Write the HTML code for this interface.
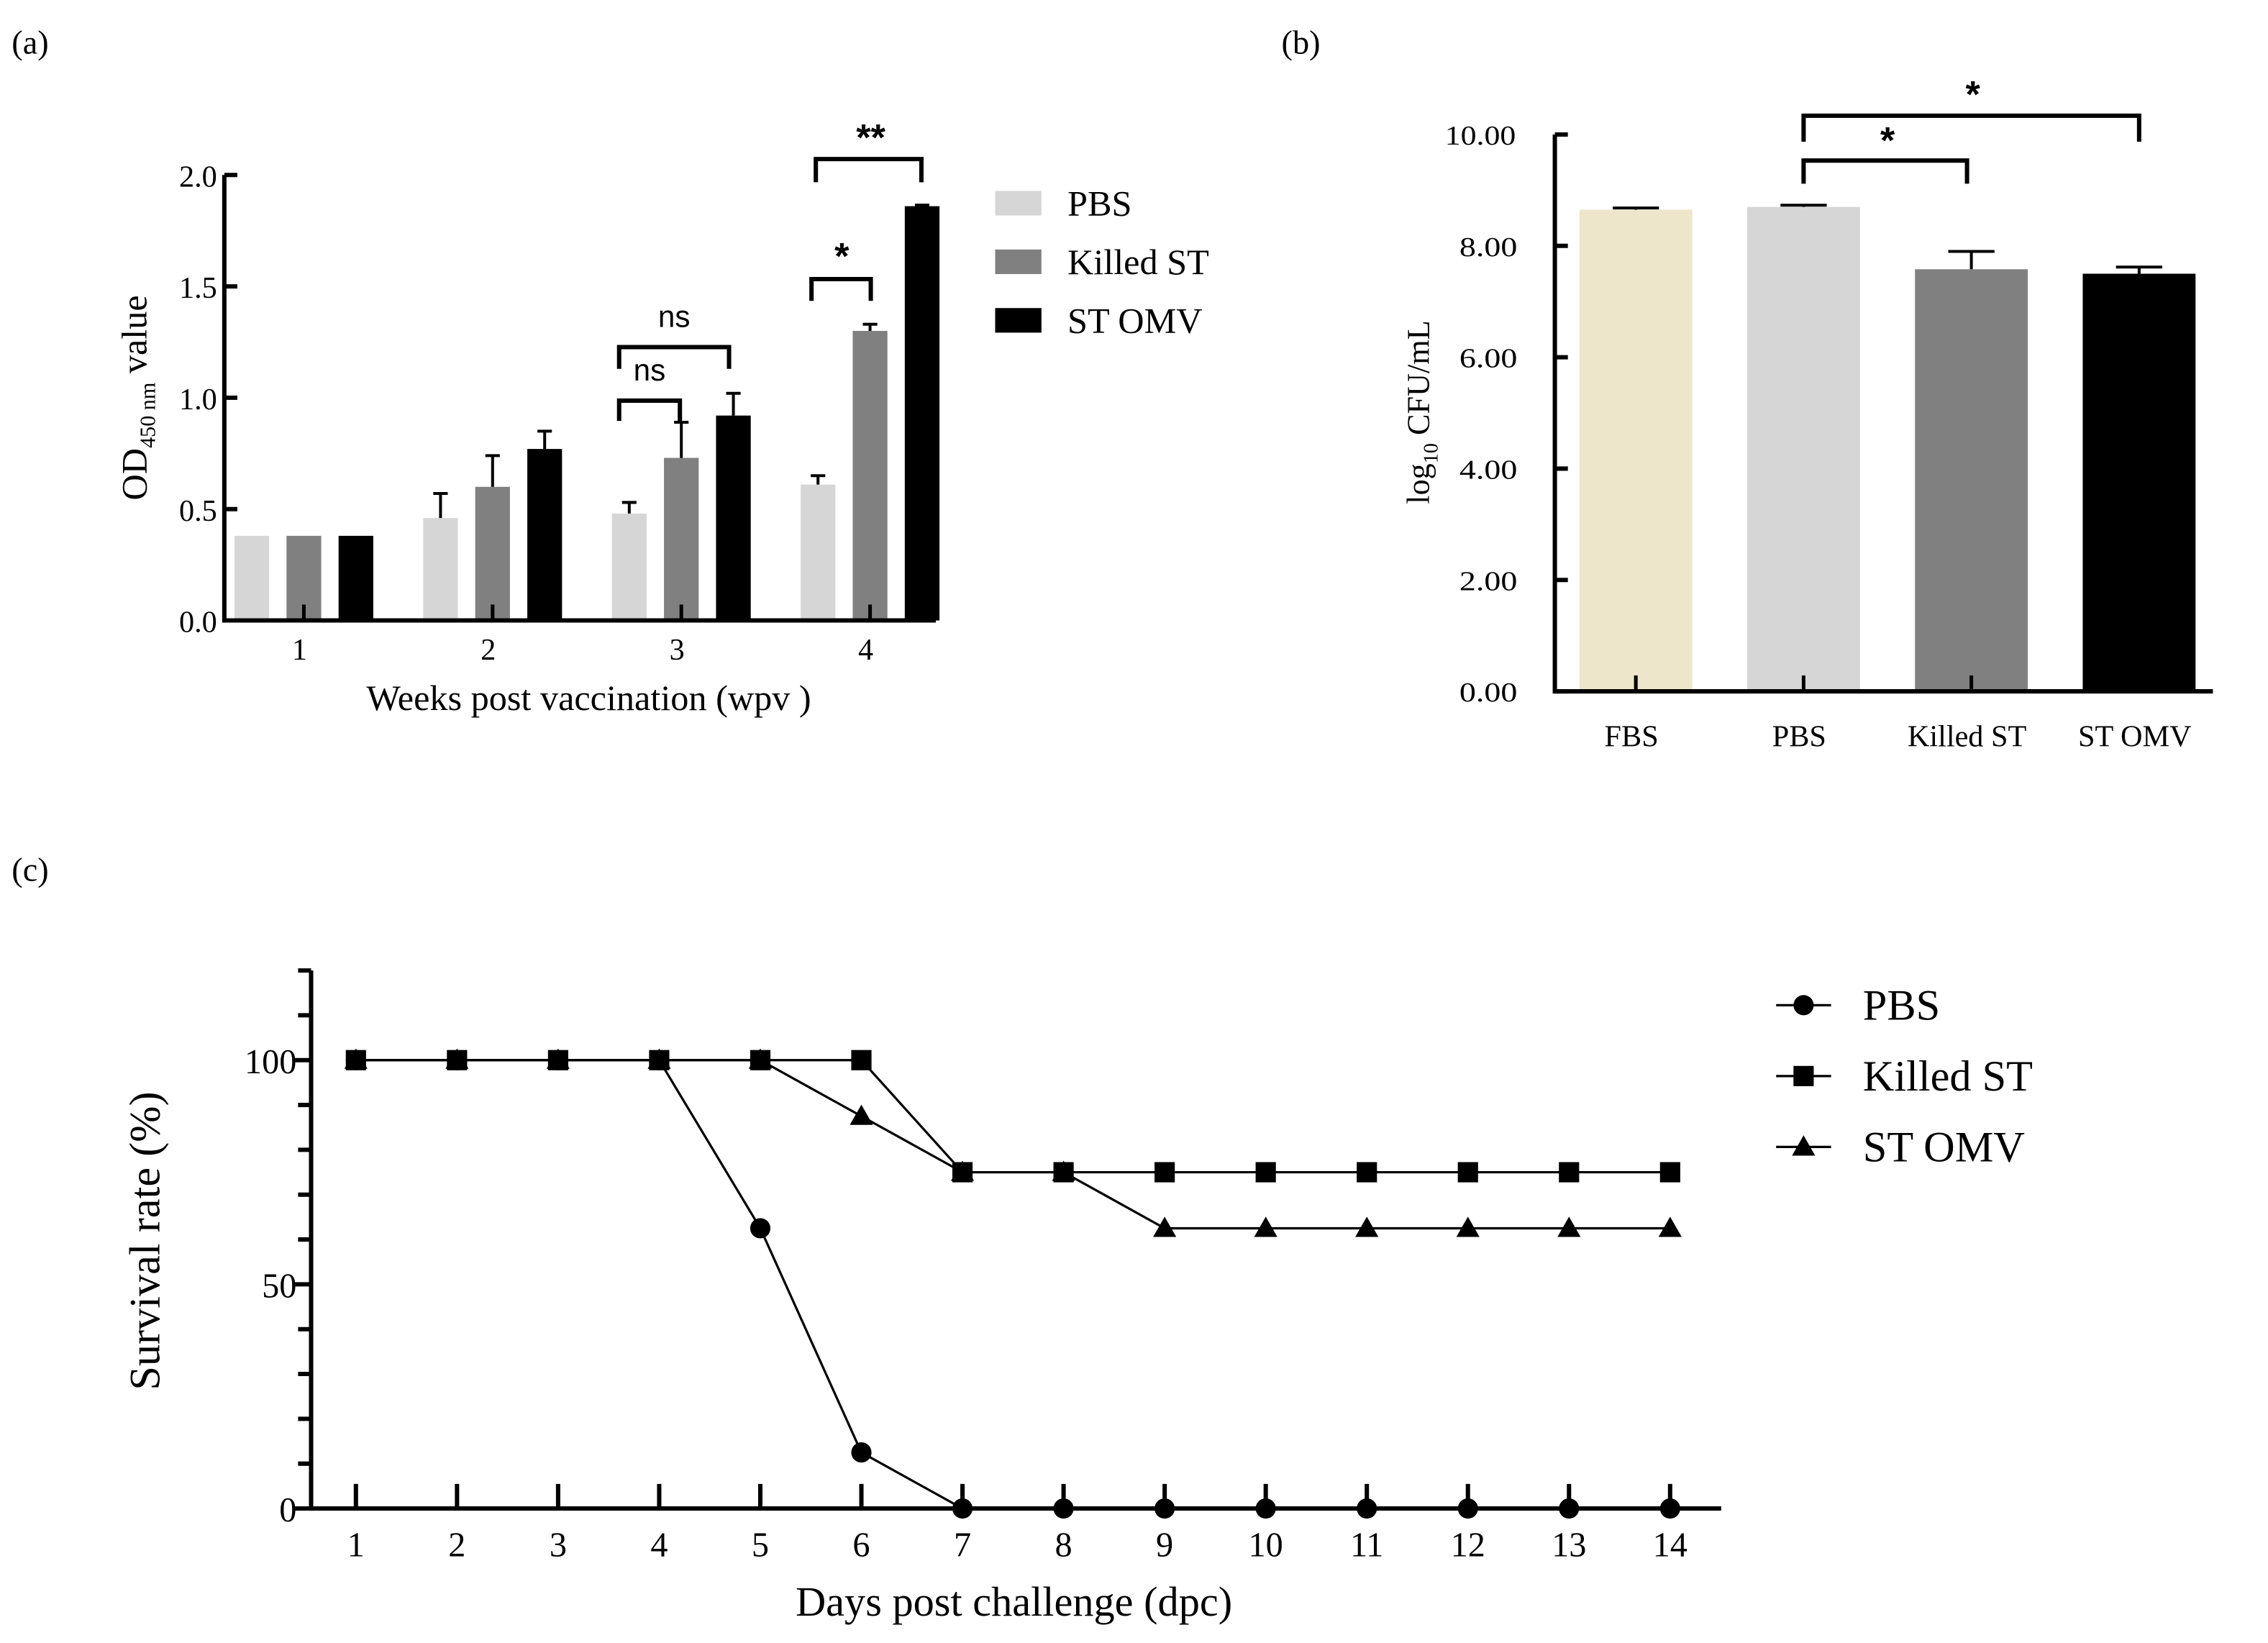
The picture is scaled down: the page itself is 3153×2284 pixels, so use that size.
<!DOCTYPE html>
<html><head><meta charset="utf-8"><style>
html,body{margin:0;padding:0;background:#fff}
svg{display:block}
text{font-family:"Liberation Serif",serif;fill:#000}
.sans{font-family:"Liberation Sans",sans-serif}
</style></head><body>
<svg id="fig" width="3153" height="2284" viewBox="0 0 1568 1136" xmlns="http://www.w3.org/2000/svg">
<rect width="1568" height="1136" fill="#fff"/>
<text x="8" y="37" font-size="23">(a)</text>
<text x="886" y="37" font-size="23">(b)</text>
<text x="8" y="609" font-size="23">(c)</text>
<g id="pa"></g>
<g id="pb"></g>
<g id="pc"></g>
</svg>
<script>
// Panel A data
const weeks = ["1","2","3","4"];
const aSeries = ["PBS","Killed ST","ST OMV"];
const aPBS = [0.38,0.46,0.48,0.61];
const aPBSerr = [0,0.11,0.05,0.04];
const aKilled = [0.38,0.60,0.73,1.30];
const aKillederr = [0,0.14,0.16,0.03];
const aOMV = [0.38,0.77,0.92,1.86];
const aOMVerr = [0,0.08,0.10,0.005];
const aTicks = ["0.0","0.5","1.0","1.5","2.0"];
// Panel B data
const bGroups = ["FBS","PBS","Killed ST","ST OMV"];
const bValues = [8.65,8.70,7.58,7.50];
const bErr = [0.03,0.03,0.32,0.12];
const bTicks = ["0.00","2.00","4.00","6.00","8.00","10.00"];
// Panel C data
const days = [1,2,3,4,5,6,7,8,9,10,11,12,13,14];
const cPBS = [100,100,100,100,62.5,12.5,0,0,0,0,0,0,0,0];
const cKilled = [100,100,100,100,100,100,75,75,75,75,75,75,75,75];
const cOMV = [100,100,100,100,100,87.5,75,75,62.5,62.5,62.5,62.5,62.5,62.5];
const cTicks = [0,50,100];

const NS="http://www.w3.org/2000/svg";
function mk(parent,tag,attrs,txt){const e=document.createElementNS(NS,tag);for(const k in attrs)e.setAttribute(k,attrs[k]);if(txt!==undefined)e.textContent=txt;parent.appendChild(e);return e;}

// ---------- Panel A ----------
(function(){
const g=document.getElementById('pa');
const X0=155,X1=647,Y0=429,Y1=121;
const y=v=>Y0-v*(Y0-Y1)/2.0;
const xc=i=>210+i*130.5;
const cols=["#d6d6d6","#808080","#000000"];
const vals=[aPBS,aKilled,aOMV], errs=[aPBSerr,aKillederr,aOMVerr];
for(let s=0;s<3;s++){for(let i=0;i<weeks.length;i++){
 const cx=xc(i)+(s-1)*36, w=24;
 const r=mk(g,'rect',{x:cx-w/2,y:y(vals[s][i]),width:w,height:Y0-y(vals[s][i]),fill:cols[s]});
 
 
 if(errs[s][i]>0){
  const top=y(vals[s][i]+errs[s][i]);
  const e=mk(g,'path',{d:`M${cx} ${y(vals[s][i])}V${top}M${cx-5} ${top}H${cx+5}`,stroke:'#000','stroke-width':2,fill:'none'});
  
  
 }
}}
mk(g,'path',{d:`M${X0} ${Y1}V${Y0}H${X1}`,stroke:'#000','stroke-width':3,fill:'none'});
aTicks.forEach(t=>{const yy=y(parseFloat(t));mk(g,'path',{d:`M${X0} ${yy}H${X0+9}`,stroke:'#000','stroke-width':3});
 const tx=mk(g,'text',{x:X0-5,y:yy+8,'font-size':21,'text-anchor':'end'},t);
 });
weeks.forEach((w,i)=>{mk(g,'path',{d:`M${xc(i)} ${Y0}V${Y0-11}`,stroke:'#000','stroke-width':2.5});
 const tx=mk(g,'text',{x:xc(i)-3,y:Y0+27,'font-size':21,'text-anchor':'middle'},w);
 });
const xt=mk(g,'text',{x:407,y:491,'font-size':25,'text-anchor':'middle'},'Weeks post vaccination (wpv )');

const yt=mk(g,'text',{transform:'translate(101,275) rotate(-90)','font-size':25,'text-anchor':'middle'});
yt.innerHTML='OD<tspan font-size="15" dy="6">450 nm</tspan><tspan dy="-6"> value</tspan>';

const br=[[428,470,277,291,'ns',449,263],[428,504,240,255,'ns',466,226],[561,602,193,208,'*',582,186],[564,637,110,126,'**',602,104]];
br.forEach(b=>{const p=mk(g,'path',{d:`M${b[0]} ${b[3]}V${b[2]}H${b[1]}V${b[3]}`,stroke:'#000','stroke-width':3,fill:'none'});
 
 const t=mk(g,'text',{x:b[5],y:b[6],'font-size':b[4]=='ns'?21:26,'font-weight':b[4]=='ns'?'normal':'bold','text-anchor':'middle',class:'sans'},b[4]);
 });
aSeries.forEach((s,i)=>{const yy=132+i*40.5;
 const r=mk(g,'rect',{x:688,y:yy,width:32,height:17,fill:cols[i]});
 
 const t=mk(g,'text',{x:738,y:yy+17,'font-size':25},s);
 });
})();

// ---------- Panel B ----------
(function(){
const g=document.getElementById('pb');
const X0=1075,X1=1530,Y0=478,Y1=93;
const y=v=>Y0-v*(Y0-Y1)/10;
const xc=i=>1131+i*116;
const cols=["#ede6ca","#d6d6d6","#808080","#000000"];
bGroups.forEach((n,i)=>{
 const r=mk(g,'rect',{x:xc(i)-39,y:y(bValues[i]),width:78,height:Y0-y(bValues[i]),fill:cols[i]});
 
 const top=y(bValues[i]+bErr[i]);
 const e=mk(g,'path',{d:`M${xc(i)} ${y(bValues[i])}V${top}M${xc(i)-16} ${top}H${xc(i)+16}`,stroke:'#000','stroke-width':2,fill:'none'});
 
 mk(g,'path',{d:`M${xc(i)} ${Y0}V${Y0-11}`,stroke:'#000','stroke-width':2.5});
 const t=mk(g,'text',{x:xc(i)-3,y:Y0+38,'font-size':21,'text-anchor':'middle'},n);
 
});
mk(g,'path',{d:`M${X0} ${Y1}V${Y0}H${X1}`,stroke:'#000','stroke-width':3,fill:'none'});
bTicks.forEach(t=>{const yy=y(parseFloat(t));mk(g,'path',{d:`M${X0} ${yy}H${X0+9}`,stroke:'#000','stroke-width':3});
 const tx=mk(g,'text',{x:X0-25,y:yy+7,'font-size':19,'text-anchor':'end',textLength:t.length==5?49:40,lengthAdjust:'spacingAndGlyphs'},t);
 tx.setAttribute('x',X0-26+ (t.length==5?0:0));
 tx.setAttribute('text-anchor','start');
 tx.setAttribute('x',t.length==5?999:1009);
 });
const yt=mk(g,'text',{transform:'translate(988,285) rotate(-90)','font-size':22,'text-anchor':'middle'});
yt.innerHTML='log<tspan font-size="14" dy="6">10</tspan><tspan dy="-6"> CFU/mL</tspan>';

const br=[[1247,1360,111,127,1305,106],[1247,1479,80,98,1364,74]];
br.forEach(b=>{const p=mk(g,'path',{d:`M${b[0]} ${b[3]}V${b[2]}H${b[1]}V${b[3]}`,stroke:'#000','stroke-width':3,fill:'none'});
 
 const t=mk(g,'text',{x:b[4],y:b[5],'font-size':26,'font-weight':'bold','text-anchor':'middle',class:'sans'},'*');
 });
})();

// ---------- Panel C ----------
(function(){
const g=document.getElementById('pc');
const X0=215,X1=1190,Y0=1043;
const y=v=>Y0-v*3.1;
const x=d=>246+(d-1)*69.9;
mk(g,'path',{d:`M${X0} ${y(120)}V${Y0}H${X1}`,stroke:'#000','stroke-width':3,fill:'none'});
for(let v=0;v<=120;v+=10){const major=v%50==0;mk(g,'path',{d:`M${X0} ${y(v)}H${X0-(major?13:9)}`,stroke:'#000','stroke-width':3});}
cTicks.forEach(v=>{const t=mk(g,'text',{x:X0-10,y:y(v)+9,'font-size':24,'text-anchor':'end'},String(v));
 });
days.forEach(d=>{mk(g,'path',{d:`M${x(d)} ${Y0}V${Y0-17}`,stroke:'#000','stroke-width':3});
 const t=mk(g,'text',{x:x(d),y:Y0+33,'font-size':24,'text-anchor':'middle'},String(d));
 });
const xt=mk(g,'text',{x:701,y:1117,'font-size':29,'text-anchor':'middle'},'Days post challenge (dpc)');

const yt=mk(g,'text',{transform:'translate(110,858) rotate(-90)','font-size':30,'text-anchor':'middle'},'Survival rate (%)');

function marker(par,type,cx,cy){
 if(type==='circle') return mk(par,'circle',{cx:cx,cy:cy,r:7,fill:'#000'});
 if(type==='square') return mk(par,'rect',{x:cx-7,y:cy-7,width:14,height:14,fill:'#000'});
 return mk(par,'path',{d:`M${cx} ${cy-8}L${cx+8} ${cy+6}L${cx-8} ${cy+6}Z`,fill:'#000'});
}
const series=[["PBS",cPBS,'circle'],["Killed ST",cKilled,'square'],["ST OMV",cOMV,'triangle']];
series.forEach(([n,vals,m])=>{
 const sg=mk(g,'g',{});
 
 
 const p=mk(sg,'path',{d:days.map((d,i)=>(i?'L':'M')+x(d)+' '+y(vals[i])).join(''),stroke:'#000','stroke-width':1.6,fill:'none'});
 
});
series.slice().reverse().forEach(([n,vals,m])=>{
 days.forEach((d,i)=>{const mm=marker(g,m,x(d),y(vals[i]));
  
  });
});
series.forEach(([n,vals,m],i)=>{const yy=695+i*49;
 mk(g,'path',{d:`M1228 ${yy}H1266`,stroke:'#000','stroke-width':1.6});
 const mm=marker(g,m,1247,yy);
 
 const t=mk(g,'text',{x:1288,y:yy+10,'font-size':30},n);
 });
})();
</script>
</body></html>
